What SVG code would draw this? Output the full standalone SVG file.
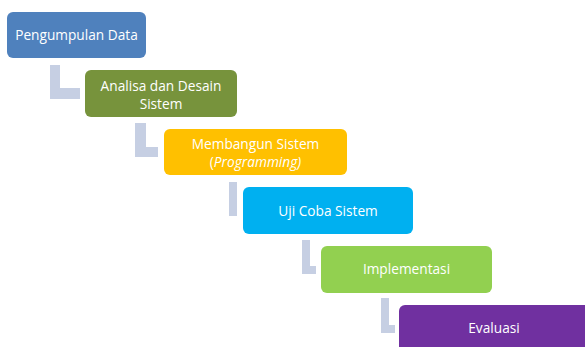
<svg xmlns="http://www.w3.org/2000/svg" width="585" height="347" viewBox="0 0 585 347">
  <style>
    .box { stroke: none; }
    .lbl { font-family: "Open Sans", "Liberation Sans", sans-serif; font-size: 13.7px; fill: #ffffff; text-anchor: middle; }
    .bend { fill: #c6cfe3; }
  </style>
  <rect width="585" height="347" fill="#ffffff"/>

  <!-- bent connectors between steps -->
  <g id="connectors">
    <path class="bend" d="M50,65 H60 V88 H80 V99 H50 Z"/>
    <path class="bend" d="M135,123 H146 V147 H158 V157 H135 Z"/>
    <path class="bend" d="M229,182 H237 V216 H229 Z"/>
    <path class="bend" d="M302,240 H310 V266 H316 V274 H302 Z"/>
    <path class="bend" d="M381,298 H389 V325 H395 V333 H381 Z"/>
  </g>

  <g id="step1">
    <rect class="box" x="7" y="12" width="139" height="46" rx="6" fill="#4f81bd"/>
    <text class="lbl" x="76.5" y="40">Pengumpulan Data</text>
  </g>
  <g id="step2">
    <rect class="box" x="85" y="70" width="152" height="47" rx="6" fill="#77933c"/>
    <text class="lbl" x="161" y="91">Analisa dan Desain</text>
    <text class="lbl" x="161" y="108.5">Sistem</text>
  </g>
  <g id="step3">
    <rect class="box" x="164" y="129" width="183" height="46" rx="6" fill="#ffc000"/>
    <text class="lbl" x="255.5" y="148.5">Membangun Sistem</text>
    <text class="lbl" x="255.5" y="166.5">(<tspan font-style="italic">Programming)</tspan></text>
  </g>
  <g id="step4">
    <rect class="box" x="243" y="187" width="170" height="47" rx="6" fill="#00b0f0"/>
    <text class="lbl" x="328" y="216">Uji Coba Sistem</text>
  </g>
  <g id="step5">
    <rect class="box" x="321" y="246" width="171" height="47" rx="6" fill="#92d050"/>
    <text class="lbl" x="406.5" y="274">Implementasi</text>
  </g>
  <g id="step6">
    <rect class="box" x="399" y="305" width="192" height="50" rx="6" fill="#7030a0"/>
    <text class="lbl" x="494" y="333">Evaluasi</text>
  </g>
</svg>
